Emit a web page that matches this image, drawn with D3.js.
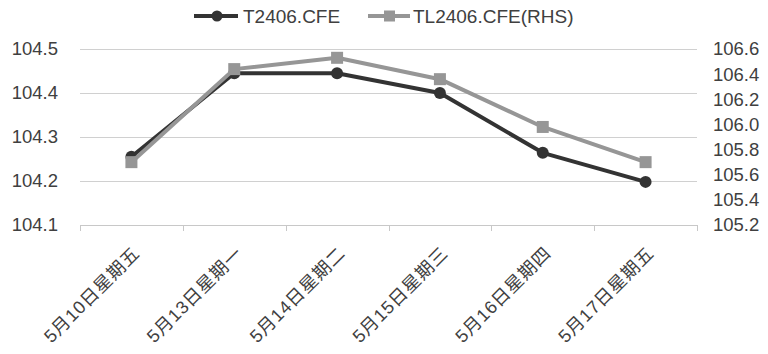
<!DOCTYPE html>
<html>
<head>
<meta charset="utf-8">
<script src="https://cdn.jsdelivr.net/npm/d3@7"></script>
<style>
  body { margin: 0; background: #fff; }
  svg text { font-family: "Liberation Sans", Arial, "Noto Sans CJK SC", sans-serif; fill: #404040; }
</style>
</head>
<body>
<div id="chart"></div>
<script>
// categories and series
const categories = ["5月10日星期五", "5月13日星期一", "5月14日星期二", "5月15日星期三", "5月16日星期四", "5月17日星期五"];
const t2406 = [104.255, 104.445, 104.445, 104.400, 104.264, 104.198];
const tl2406 = [105.70, 106.44, 106.53, 106.36, 105.98, 105.70];
const leftTicks = [104.1, 104.2, 104.3, 104.4, 104.5];
const rightTicks = [105.2, 105.4, 105.6, 105.8, 106.0, 106.2, 106.4, 106.6];

const width = 768, height = 354;
const plotLeft = 80, plotRight = 697, plotTop = 49, plotBottom = 225;
const darkColor = "#333333", lightColor = "#969696";

const svg = d3.select("#chart").append("svg")
	.attr("width", width)
	.attr("height", height);

const x = d3.scaleBand().domain(categories).range([plotLeft, plotRight]).padding(0);
const y = d3.scaleLinear().domain([104.1, 104.5]).range([plotBottom, plotTop]);
const y2 = d3.scaleLinear().domain([105.2, 106.6]).range([plotBottom, plotTop]);
const cx = c => x(c) + x.bandwidth() / 2;

// gridlines
svg.append("g").selectAll("line")
	.data(leftTicks.slice(1)).enter()
	.append("line")
		.attr("x1", plotLeft).attr("x2", plotRight)
		.attr("y1", d => Math.round(y(d)) + 0.5).attr("y2", d => Math.round(y(d)) + 0.5)
		.attr("stroke", "#d0d0d0").attr("stroke-width", 1);

// left axis labels
const leftAxis = svg.append("g")
	.attr("transform", `translate(${plotLeft - 22},0)`)
	.call(d3.axisLeft(y).tickValues(leftTicks).tickFormat(d3.format(".1f")).tickSize(0).tickPadding(0));
leftAxis.select(".domain").remove();
leftAxis.selectAll("text").attr("font-size", "18.5px").attr("fill", "#404040");

// right axis labels
const rightAxis = svg.append("g")
	.attr("transform", `translate(${plotRight + 16},0)`)
	.call(d3.axisRight(y2).tickValues(rightTicks).tickFormat(d3.format(".1f")).tickSize(0).tickPadding(0));
rightAxis.select(".domain").remove();
rightAxis.selectAll("text").attr("font-size", "18.5px").attr("fill", "#404040");

// bottom axis line + ticks on band boundaries
const bottom = svg.append("g").attr("stroke", "#c8c8c8").attr("stroke-width", 1);
bottom.append("line")
	.attr("x1", plotLeft).attr("x2", plotRight)
	.attr("y1", plotBottom + 0.5).attr("y2", plotBottom + 0.5);
bottom.selectAll(".tick")
	.data(categories.map(c => x(c)).concat([x.range()[1]])).enter()
	.append("line")
		.attr("x1", d => Math.round(d) + 0.5).attr("x2", d => Math.round(d) + 0.5)
		.attr("y1", plotBottom).attr("y2", plotBottom + 6);

// category labels, rotated
svg.append("g").selectAll("text")
	.data(categories).enter()
	.append("text")
		.attr("transform", d => `translate(${cx(d) + 5},${plotBottom + 25}) rotate(-45)`)
		.attr("text-anchor", "end")
		.attr("dy", "0.35em")
		.attr("font-size", "18px")
		.attr("letter-spacing", "0.8px")
		.text(d => d);

// lines
const lineT = d3.line().x((d, i) => cx(categories[i])).y(d => y(d));
const lineTL = d3.line().x((d, i) => cx(categories[i])).y(d => y2(d));

svg.append("path").datum(t2406)
	.attr("d", lineT).attr("fill", "none")
	.attr("stroke", darkColor).attr("stroke-width", 4).attr("stroke-linejoin", "round");
svg.selectAll(".dotT")
	.data(t2406).enter()
	.append("circle")
		.attr("cx", (d, i) => cx(categories[i])).attr("cy", d => y(d))
		.attr("r", 6).attr("fill", darkColor);

svg.append("path").datum(tl2406)
	.attr("d", lineTL).attr("fill", "none")
	.attr("stroke", lightColor).attr("stroke-width", 4).attr("stroke-linejoin", "round");
svg.selectAll(".sqTL")
	.data(tl2406).enter()
	.append("rect")
		.attr("x", (d, i) => cx(categories[i]) - 6).attr("y", d => y2(d) - 6)
		.attr("width", 12).attr("height", 12).attr("fill", lightColor);

// legend
const legend = svg.append("g").attr("transform", "translate(0,16)");
legend.append("line").attr("x1", 194).attr("x2", 238).attr("y1", 0).attr("y2", 0)
	.attr("stroke", darkColor).attr("stroke-width", 4);
legend.append("circle").attr("cx", 217).attr("cy", 0).attr("r", 5.5).attr("fill", darkColor);
legend.append("text").attr("x", 243).attr("y", 0).attr("dy", "0.35em")
	.attr("font-size", "19px")
	.text("T2406.CFE");
legend.append("line").attr("x1", 368).attr("x2", 410).attr("y1", 0).attr("y2", 0)
	.attr("stroke", lightColor).attr("stroke-width", 4);
legend.append("rect").attr("x", 384).attr("y", -5.5).attr("width", 11).attr("height", 11).attr("fill", lightColor);
legend.append("text").attr("x", 413).attr("y", 0).attr("dy", "0.35em")
	.attr("font-size", "19px")
	.text("TL2406.CFE(RHS)");
</script>
</body>
</html>
